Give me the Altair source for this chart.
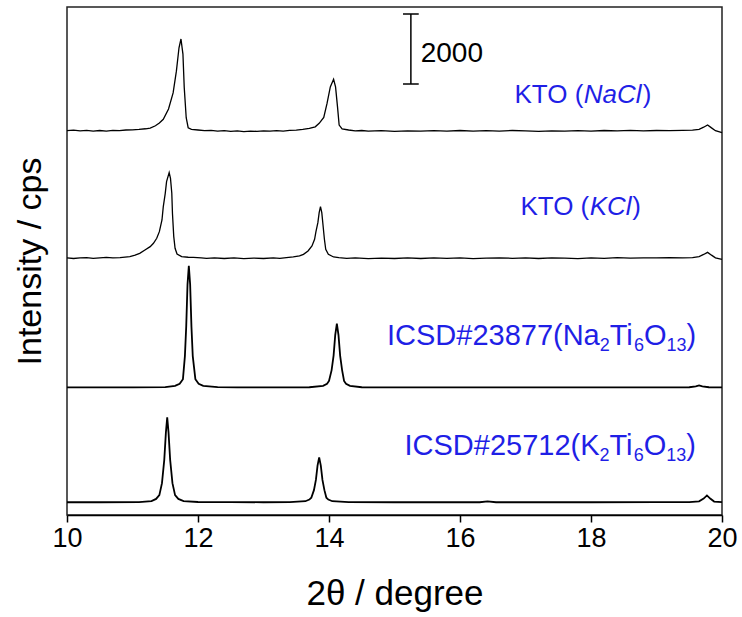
import altair as alt
import pandas as pd

# ---------------- data (2θ in degree, intensity above each trace's own baseline in cps) -------------
# KTO (NaCl) - experimental
t1_x = [10.00, 10.10, 10.20, 10.30, 10.40, 10.50, 10.60, 10.70, 10.80, 10.90, 11.00, 11.10, 11.20, 11.27,
        11.35, 11.41, 11.47, 11.55, 11.62, 11.67, 11.71, 11.74, 11.77, 11.79, 11.82, 11.85, 11.90, 12.00,
        12.10, 12.20, 12.30, 12.40, 12.50, 12.60, 12.70, 12.80, 12.90, 13.00, 13.10, 13.20, 13.30, 13.40,
        13.50, 13.60, 13.70, 13.79, 13.85, 13.92, 13.97, 14.02, 14.07, 14.10, 14.13, 14.155, 14.20, 14.30,
        14.40, 14.50, 14.60, 14.80, 15.00, 15.20, 15.40, 15.60, 15.80, 16.00, 16.20, 16.40, 16.60, 16.80,
        17.00, 17.20, 17.40, 17.60, 17.80, 18.00, 18.20, 18.40, 18.60, 18.80, 19.00, 19.20, 19.40, 19.55,
        19.65, 19.72, 19.78, 19.84, 19.90, 20.00]
t1_h = [10, 25, 5, 20, 0, 15, -5, 20, 10, 30, 35, 45, 65, 86,
        150, 230, 335, 630, 1090, 1710, 2380, 2630, 2200, 1240, 380, 95, 50, 30,
        10, 20, -5, 10, -10, 5, -15, 0, -10, 5, -5, 10, 0, 20,
        25, 45, 75, 120, 220, 390, 790, 1260, 1480, 1260, 690, 170, 60, 30,
        5, 15, -5, 10, -10, 5, -5, 10, 0, 15, -5, 10, 0, 15,
        5, -10, 5, -5, 10, 0, 15, 5, 20, 5, 15, 10, 20, 25,
        50, 110, 175, 90, 10, -45]

# KTO (KCl) - experimental
t2_x = [10.00, 10.10, 10.20, 10.30, 10.40, 10.50, 10.60, 10.70, 10.81, 10.96, 11.04, 11.11, 11.19, 11.27,
        11.32, 11.37, 11.41, 11.45, 11.47, 11.50, 11.52, 11.56, 11.58, 11.60, 11.61, 11.63, 11.65, 11.68,
        11.75, 11.85, 11.93, 12.05, 12.13, 12.25, 12.40, 12.55, 12.70, 12.85, 13.00, 13.15, 13.25, 13.35,
        13.455, 13.55, 13.61, 13.68, 13.74, 13.78, 13.80, 13.83, 13.85, 13.87, 13.89, 13.91, 13.93, 13.95,
        13.99, 14.07, 14.15, 14.27, 14.40, 14.60, 14.80, 15.00, 15.20, 15.40, 15.60, 15.80, 16.00, 16.20,
        16.40, 16.60, 16.80, 17.00, 17.20, 17.40, 17.60, 17.80, 18.00, 18.20, 18.40, 18.60, 18.80, 19.00,
        19.20, 19.40, 19.55, 19.65, 19.72, 19.78, 19.84, 19.90, 20.00]
t2_h = [15, -5, 10, 20, 0, 15, 25, 10, 20, 46, 90, 143, 238, 333,
        428, 571, 761, 1095, 1475, 1857, 2190, 2447, 2285, 1857, 1286, 619, 286, 124,
        48, 30, 29, 10, 0, 15, -5, 10, -10, 5, -5, 10, 0, 20,
        38, 70, 114, 210, 352, 543, 752, 1019, 1305, 1476, 1305, 924, 543, 257,
        114, 38, 20, 0, 10, -10, 5, -5, 10, -5, 15, 0, 10, -10,
        5, 15, 0, 10, -5, 15, 5, -10, 10, 0, 20, 5, 15, 10,
        20, 15, 20, 50, 110, 170, 90, 15, -30]

# ICSD#23877 (Na2Ti6O13) - calculated
t3_x = [10.00, 10.50, 11.00, 11.50, 11.65, 11.72, 11.77, 11.80, 11.82, 11.84, 11.86, 11.88, 11.90, 11.92,
        11.96, 12.01, 12.08, 12.30, 12.60, 13.20, 13.70, 13.91, 13.97, 14.00, 14.04, 14.07, 14.095, 14.12,
        14.145, 14.17, 14.20, 14.23, 14.26, 14.32, 14.50, 15.00, 16.00, 17.00, 18.00, 19.00, 19.50, 19.60,
        19.65, 19.70, 19.80, 20.00]
t3_h = [5, 5, 8, 15, 49, 110, 240, 900, 1740, 2950, 3477, 2950, 1740, 900,
        240, 110, 49, 15, 5, 5, 10, 49, 110, 190, 500, 914, 1500, 1829,
        1500, 914, 500, 190, 110, 49, 10, 5, 5, 5, 5, 8, 10, 35,
        65, 35, 10, 5]

# ICSD#25712 (K2Ti6O13) - calculated
t4_x = [10.00, 10.50, 11.10, 11.29, 11.36, 11.41, 11.45, 11.485, 11.51, 11.53, 11.55, 11.575, 11.61, 11.65,
        11.70, 11.78, 12.00, 12.50, 13.00, 13.40, 13.64, 13.70, 13.73, 13.77, 13.80, 13.825, 13.85, 13.875,
        13.90, 13.93, 13.96, 13.99, 14.05, 14.30, 15.00, 16.00, 16.30, 16.42, 16.55, 17.00, 18.00, 19.00,
        19.50, 19.65, 19.72, 19.77, 19.82, 19.88, 20.00]
t4_h = [5, 5, 10, 37, 100, 209, 550, 1215, 2000, 2430, 2000, 1215, 550, 209,
        100, 37, 12, 5, 5, 8, 34, 80, 134, 350, 643, 1050, 1286, 1050,
        643, 350, 134, 80, 34, 10, 5, 5, 5, 30, 5, 5, 5, 8,
        10, 30, 110, 200, 110, 25, 5]

series_names = ["KTO (NaCl)", "KTO (KCl)", "ICSD#23877", "ICSD#25712"]
series_kind = ["exp", "exp", "calc", "calc"]
series_offset = [10970, 7334, 3640, 360]          # vertical stacking offsets (cps)
series_x = [t1_x, t2_x, t3_x, t4_x]
series_h = [t1_h, t2_h, t3_h, t4_h]

Y_MAX = 14514
x_ticks = [10, 12, 14, 16, 18, 20]

# labels: normal-size pieces (left edges)
lab_norm_text = ["KTO (", "KTO (", ")", ")",
                 "ICSD#23877(Na", "Ti", "O", ")",
                 "ICSD#25712(K", "Ti", "O", ")"]
lab_norm_x = [16.832, 16.922, 18.79, 18.63,
              14.885, 18.285, 18.808, 19.458,
              15.153, 18.282, 18.805, 19.455]
lab_norm_y = [11771, 8571, 11771, 8571,
              4857, 4857, 4857, 4857,
              1714, 1714, 1714, 1714]
lab_norm_size = [26, 26, 26, 26,
                 29, 29, 29, 29,
                 29, 29, 29, 29]
# italic pieces
lab_ital_text = ["NaCl", "KCl"]
lab_ital_x = [17.89, 17.98]
lab_ital_y = [11771, 8571]
# subscript pieces
lab_sub_text = ["2", "6", "13", "2", "6", "13"]
lab_sub_x = [18.133, 18.655, 19.153, 18.130, 18.652, 19.150]
lab_sub_y = [4857, 4857, 4857, 1714, 1714, 1714]

# scale bar (2000 cps)
bar_x = 15.25
bar_cap = [15.13, 15.37]
bar_y = [12314, 14314]
bar_text = "2000"
bar_text_x = 15.40
bar_text_y = 13171

# ---------------- tables ----------------
rows = []
for name, kind, off, xs, hs in zip(series_names, series_kind, series_offset, series_x, series_h):
    for a, b in zip(xs, hs):
        rows.append({"x": a, "y": off + b, "series": name, "kind": kind})
df = pd.DataFrame(rows)

lab_norm = pd.DataFrame({"x": lab_norm_x, "y": lab_norm_y, "t": lab_norm_text, "fs": lab_norm_size})
lab_ital = pd.DataFrame({"x": lab_ital_x, "y": lab_ital_y, "t": lab_ital_text})
lab_sub = pd.DataFrame({"x": lab_sub_x, "y": lab_sub_y, "t": lab_sub_text})
bar_v = pd.DataFrame({"x": [bar_x], "y": [bar_y[0]], "y2": [bar_y[1]]})
bar_h = pd.DataFrame({"x": [bar_cap[0], bar_cap[0]], "x2": [bar_cap[1], bar_cap[1]], "y": bar_y})
bar_t = pd.DataFrame({"x": [bar_text_x], "y": [bar_text_y], "t": [bar_text]})

FONT = "Liberation Sans, Arial, Helvetica, sans-serif"
BLUE = "#1f1fe6"

xs_ = alt.Scale(domain=[10, 20], nice=False, zero=False)
ys_ = alt.Scale(domain=[0, Y_MAX], nice=False, zero=False)

x_axis = alt.Axis(values=x_ticks, format="d", grid=False, labelFlush=False,
                  labelFontSize=27, labelFont=FONT, labelColor="black", labelPadding=3,
                  tickSize=7, tickWidth=1.5, tickColor="black",
                  domainColor="black", domainWidth=1.5,
                  title="2θ / degree", titleFont=FONT, titleFontSize=35, titleFontWeight="normal",
                  titleColor="black", titleY=78, titleBaseline="middle")
y_axis = alt.Axis(labels=False, ticks=False, domain=False, grid=False,
                  title="Intensity / cps", titleFont=FONT, titleFontSize=34, titleFontWeight="normal",
                  titleColor="black", titleAngle=270, titleX=-37, titleY=254,
                  titleAlign="center", titleBaseline="middle")

X = alt.X("x:Q", scale=xs_, axis=x_axis)
Y = alt.Y("y:Q", scale=ys_, axis=y_axis)

lines = alt.Chart(df).mark_line(color="black").encode(
    x=X, y=Y, detail="series:N",
    strokeWidth=alt.StrokeWidth("kind:N", scale=alt.Scale(domain=["exp", "calc"], range=[1.3, 1.8]), legend=None),
)

t_norm = alt.Chart(lab_norm).mark_text(align="left", baseline="alphabetic", font=FONT, color=BLUE).encode(
    x=X, y=Y, text="t:N", size=alt.Size("fs:Q", scale=None, legend=None))
t_ital = alt.Chart(lab_ital).mark_text(align="left", baseline="alphabetic", font=FONT, fontStyle="italic",
                                       fontSize=26, color=BLUE).encode(x=X, y=Y, text="t:N")
t_sub = alt.Chart(lab_sub).mark_text(align="left", baseline="alphabetic", font=FONT, dy=6,
                                     fontSize=18, color=BLUE).encode(x=X, y=Y, text="t:N")

bar_rule = alt.Chart(bar_v).mark_rule(color="black", strokeWidth=1.5).encode(x=X, y=Y, y2="y2:Q")
bar_caps = alt.Chart(bar_h).mark_rule(color="black", strokeWidth=1.5).encode(x=X, x2="x2:Q", y=Y)
bar_label = alt.Chart(bar_t).mark_text(align="left", baseline="middle", font=FONT, fontSize=28,
                                       color="black").encode(x=X, y=Y, text="t:N")

chart = alt.layer(lines, t_norm, t_ital, t_sub, bar_rule, bar_caps, bar_label).properties(
    width=655, height=508,
    background="white",
    autosize=alt.AutoSizeParams(type="none"),
    padding={"left": 67, "top": 7, "right": 20, "bottom": 102},
).configure_view(stroke="#222222", strokeWidth=1.5)

chart.save("out.html", embed_options={"renderer": "svg", "actions": False})
